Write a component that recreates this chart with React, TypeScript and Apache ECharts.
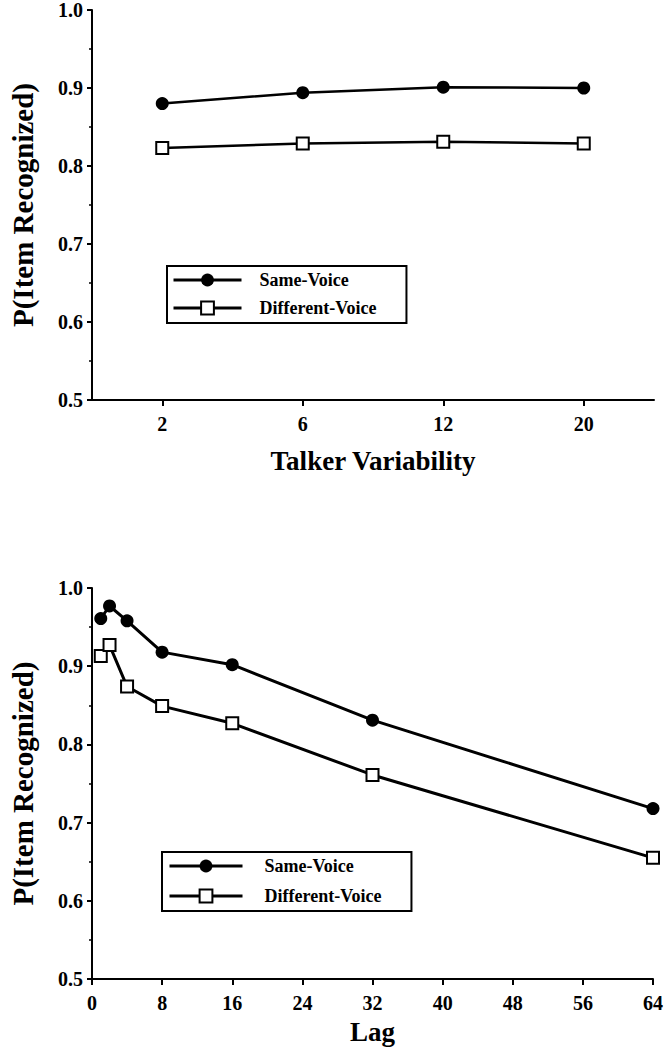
import React, { useEffect, useRef } from "react";
import * as echarts from "echarts";

const talkerCategories = ["2", "6", "12", "20"];
const talkerSame = [0.880, 0.894, 0.901, 0.900];
const talkerDiff = [0.823, 0.829, 0.831, 0.829];

const lags = [1, 2, 4, 8, 16, 32, 64];
const lagSame = [0.961, 0.977, 0.958, 0.918, 0.902, 0.831, 0.718];
const lagDiff = [0.913, 0.927, 0.874, 0.849, 0.827, 0.761, 0.655];

const FONT = "Liberation Serif";

function yAxisCfg(gap: number) {
  return {
    type: "value",
    min: 0.5,
    max: 1.0,
    interval: 0.1,
    name: "P(Item Recognized)",
    nameLocation: "middle",
    nameGap: gap,
    nameTextStyle: { fontFamily: FONT, fontWeight: "bold", fontSize: 29, color: "#000" },
    axisLine: { show: true, lineStyle: { color: "#000", width: 2 } },
    axisTick: { show: true, length: 5, lineStyle: { color: "#000", width: 2 } },
    minorTick: { show: true, splitNumber: 2, length: 3, lineStyle: { color: "#000", width: 1.5 } },
    splitLine: { show: false },
    axisLabel: {
      margin: 9,
      fontFamily: FONT,
      fontWeight: "bold",
      fontSize: 20,
      color: "#000",
      formatter: (v: number) => v.toFixed(1),
    },
  };
}

function seriesPair(same: any[], diff: any[], lw: number) {
  return [
    {
      name: "Same-Voice",
      type: "line",
      data: same,
      symbol: "circle",
      symbolSize: 13,
      lineStyle: { color: "#000", width: lw },
      itemStyle: { color: "#000", borderColor: "#000", borderWidth: 0 },
    },
    {
      name: "Different-Voice",
      type: "line",
      data: diff,
      symbol: "rect",
      symbolSize: 12,
      lineStyle: { color: "#000", width: lw },
      itemStyle: { color: "#fff", borderColor: "#000", borderWidth: 2 },
    },
  ];
}

function legendCfg(left: number, top: number, w: number, gap: number, textPad: number, padding: number[]) {
  return {
    show: true,
    orient: "vertical",
    left,
    top,
    itemWidth: w,
    itemHeight: 16,
    itemGap: gap,
    padding,
    borderColor: "#000",
    borderWidth: 2,
    backgroundColor: "#fff",
    selectedMode: false,
    lineStyle: { width: 3, color: "#000" },
    data: ["Same-Voice", "Different-Voice"],
    textStyle: {
      fontFamily: FONT,
      fontWeight: "bold",
      fontSize: 18,
      color: "#000",
      padding: [0, 0, 0, textPad],
    },
  };
}

export default function App() {
  const topRef = useRef<HTMLDivElement>(null);
  const botRef = useRef<HTMLDivElement>(null);

  useEffect(() => {
    const c1 = echarts.init(topRef.current!, null, { renderer: "svg" });
    c1.setOption({
      animation: false,
      backgroundColor: "#fff",
      textStyle: { fontFamily: FONT },
      grid: { left: 90, top: 5, width: 564, height: 395 },
      legend: legendCfg(167, 266, 68, 10, 13, [5, 30, 6, 5]),
      xAxis: {
        type: "category",
        data: talkerCategories,
        boundaryGap: true,
        name: "Talker Variability",
        nameLocation: "middle",
        nameGap: 47,
        nameTextStyle: { fontFamily: FONT, fontWeight: "bold", fontSize: 27, color: "#000" },
        axisLine: { show: true, lineStyle: { color: "#000", width: 2 } },
        axisTick: { show: true, alignWithLabel: true, length: 6, lineStyle: { color: "#000", width: 2 } },
        axisLabel: { margin: 14, fontFamily: FONT, fontWeight: "bold", fontSize: 20, color: "#000" },
        splitLine: { show: false },
      },
      yAxis: yAxisCfg(55),
      series: seriesPair(talkerSame, talkerDiff, 2.5),
    });

    const c2 = echarts.init(botRef.current!, null, { renderer: "svg" });
    c2.setOption({
      animation: false,
      backgroundColor: "#fff",
      textStyle: { fontFamily: FONT },
      grid: { left: 88, top: 88, width: 566, height: 397 },
      legend: legendCfg(162, 352, 73, 12, 17, [5, 30, 6, 6]),
      xAxis: {
        type: "value",
        min: 0,
        max: 64,
        interval: 8,
        name: "Lag",
        nameLocation: "middle",
        nameGap: 38,
        nameTextStyle: { fontFamily: FONT, fontWeight: "bold", fontSize: 27, color: "#000" },
        axisLine: { show: true, lineStyle: { color: "#000", width: 2 } },
        axisTick: { show: true, length: 6, lineStyle: { color: "#000", width: 2 } },
        axisLabel: { margin: 14, fontFamily: FONT, fontWeight: "bold", fontSize: 20, color: "#000" },
        splitLine: { show: false },
      },
      yAxis: yAxisCfg(55),
      series: seriesPair(
        lags.map((l, i) => [l, lagSame[i]]),
        lags.map((l, i) => [l, lagDiff[i]]),
        3
      ),
    });

    return () => {
      c1.dispose();
      c2.dispose();
    };
  }, []);

  return (
    <div style={{ position: "fixed", left: 0, top: 0, width: 666, height: 1050, background: "#fff" }}>
      <div ref={topRef} style={{ position: "absolute", left: 0, top: 0, width: 666, height: 500 }} />
      <div ref={botRef} style={{ position: "absolute", left: 0, top: 500, width: 666, height: 550 }} />
    </div>
  );
}
